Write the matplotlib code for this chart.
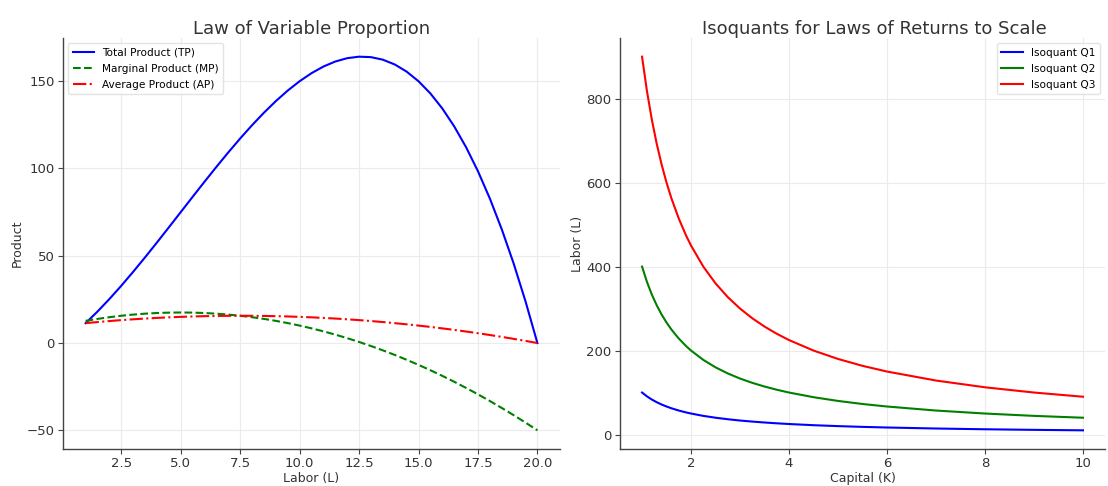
import matplotlib
matplotlib.use("Agg")
import matplotlib.pyplot as plt

# Law of variable proportion
labor = [1, 1.5, 2, 2.5, 3, 3.5, 4, 4.5, 5, 5.5, 6, 6.5, 7, 7.5, 8, 8.5, 9, 9.5, 10,
         10.5, 11, 11.5, 12, 12.5, 13, 13.5, 14, 14.5, 15, 15.5, 16, 16.5, 17, 17.5,
         18, 18.5, 19, 19.5, 20]
tp = [11.4, 18.04, 25.2, 32.81, 40.8, 49.09, 57.6, 66.26, 75.0, 83.74, 92.4, 100.91,
      109.2, 117.19, 124.8, 131.96, 138.6, 144.64, 150.0, 154.61, 158.4, 161.29, 163.2,
      164.06, 163.8, 162.34, 159.6, 155.51, 150.0, 142.99, 134.4, 124.16, 112.2, 98.44,
      82.8, 65.21, 45.6, 23.89, 0.0]
mp = [12.7, 13.83, 14.8, 15.63, 16.3, 16.83, 17.2, 17.43, 17.5, 17.43, 17.2, 16.83,
      16.3, 15.63, 14.8, 13.83, 12.7, 11.43, 10.0, 8.43, 6.7, 4.83, 2.8, 0.63, -1.7,
      -4.18, -6.8, -9.58, -12.5, -15.58, -18.8, -22.18, -25.7, -29.38, -33.2, -37.18,
      -41.3, -45.58, -50.0]
ap = [11.4, 12.03, 12.6, 13.13, 13.6, 14.03, 14.4, 14.73, 15.0, 15.23, 15.4, 15.53,
      15.6, 15.63, 15.6, 15.53, 15.4, 15.23, 15.0, 14.73, 14.4, 14.03, 13.6, 13.13,
      12.6, 12.03, 11.4, 10.73, 10.0, 9.23, 8.4, 7.53, 6.6, 5.63, 4.6, 3.53, 2.4, 1.23,
      0.0]

# Isoquants (right panel)
capital = [1, 1.1, 1.2, 1.3, 1.4, 1.5, 1.6, 1.75, 1.9, 2, 2.25, 2.5, 2.75, 3, 3.25,
           3.5, 3.75, 4, 4.5, 5, 5.5, 6, 7, 8, 9, 10]
q1 = [100, 90.9, 83.3, 76.9, 71.4, 66.7, 62.5, 57.1, 52.6, 50, 44.4, 40, 36.4, 33.3,
      30.8, 28.6, 26.7, 25, 22.2, 20, 18.2, 16.7, 14.3, 12.5, 11.1, 10]
q2 = [400, 363.6, 333.3, 307.7, 285.7, 266.7, 250, 228.6, 210.5, 200, 177.8, 160,
      145.5, 133.3, 123.1, 114.3, 106.7, 100, 88.9, 80, 72.7, 66.7, 57.1, 50, 44.4, 40]
q3 = [900, 818.2, 750, 692.3, 642.9, 600, 562.5, 514.3, 473.7, 450, 400, 360, 327.3,
      300, 276.9, 257.1, 240, 225, 200, 180, 163.6, 150, 128.6, 112.5, 100, 90]

W, H = 1108, 486
fig = plt.figure(figsize=(W / 100, H / 100), dpi=100)
ax1 = fig.add_axes([63 / W, 37 / H, 497 / W, 411 / H])
ax2 = fig.add_axes([620 / W, 37 / H, 485 / W, 411 / H])


def style(ax):
    ax.grid(True, color="#ebebeb", linewidth=0.8)
    ax.set_axisbelow(True)
    for s in ["top", "right"]:
        ax.spines[s].set_visible(False)
    for s in ["left", "bottom"]:
        ax.spines[s].set_color("#444444")
        ax.spines[s].set_linewidth(1.0)
    ax.tick_params(labelsize=9.5, colors="#444444", length=3.5, width=0.8,
                   labelcolor="#333333", pad=2.5)


ax1.plot(labor, tp, color="blue", lw=1.5, label="Total Product (TP)")
ax1.plot(labor, mp, color="green", lw=1.5, ls="--", label="Marginal Product (MP)")
ax1.plot(labor, ap, color="red", lw=1.5, ls="-.", label="Average Product (AP)")
ax1.set_title("Law of Variable Proportion", fontsize=13, color="#333333", pad=2)
ax1.set_xlabel("Labor (L)", fontsize=9, color="#333333", labelpad=1)
ax1.set_ylabel("Product", fontsize=9, color="#333333", labelpad=2)
ax1.set_xticks([2.5, 5.0, 7.5, 10.0, 12.5, 15.0, 17.5, 20.0])
ax1.set_yticks([-50, 0, 50, 100, 150])
style(ax1)
ax1.legend(loc="upper left", fontsize=7.6, labelspacing=0.6, frameon=True,
           edgecolor="#dddddd")

ax2.plot(capital, q1, color="blue", lw=1.5, label="Isoquant Q1")
ax2.plot(capital, q2, color="green", lw=1.5, label="Isoquant Q2")
ax2.plot(capital, q3, color="red", lw=1.5, label="Isoquant Q3")
ax2.set_title("Isoquants for Laws of Returns to Scale", fontsize=13, color="#333333",
              pad=2, x=0.525)
ax2.set_xlabel("Capital (K)", fontsize=9, color="#333333", labelpad=1)
ax2.set_ylabel("Labor (L)", fontsize=9, color="#333333", labelpad=2)
ax2.set_yticks([0, 200, 400, 600, 800])
style(ax2)
ax2.legend(loc="upper right", fontsize=7.6, labelspacing=0.6, frameon=True,
           edgecolor="#dddddd")

fig.savefig("out.png", dpi=100)
